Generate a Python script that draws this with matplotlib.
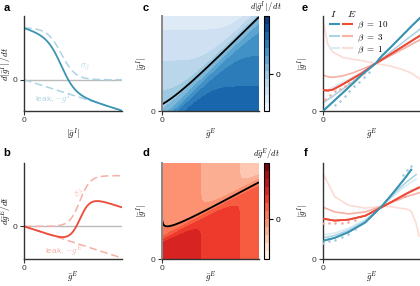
import numpy as np
import matplotlib
matplotlib.use("Agg")
import matplotlib.pyplot as plt
from matplotlib.legend_handler import HandlerTuple

plt.rcParams['font.family'] = ['Liberation Sans', 'DejaVu Sans']
plt.rcParams['mathtext.fontset'] = 'cm'

# ---------------- model parameters (panels a-d) ----------------
A_I, beta_I, theta_I, w_I = 1.68, 14.0, 0.154, 1.17     # inhibitory population
A_E, beta_E, theta_E, w_E = 1.6, 31.0, -0.199, 0.617    # excitatory population
a_center = 0.38      # sigmoid centre shown in panel a (|g^I| axis)
b_center = 0.57      # sigmoid centre shown in panel b (g^E axis)
b_gain = 19.0
c_levels = (-1.5, 2.4)     # colour-bar range, panel c
d_levels = (-2.0, 2.8)     # colour-bar range, panel d
n_levels = 12

# ---------------- nullcline data (panels e, f) ----------------
betas = [10, 3, 1]
e_x = [0.0, 0.05, 0.1, 0.2, 0.3, 0.4, 0.536, 0.6, 0.7, 0.8, 0.9, 1.0]
e_I = {10: [0.0, 0.047, 0.095, 0.19, 0.285, 0.385, 0.50, 0.58, 0.68, 0.785, 0.89, 0.99],
       3:  [0.087, 0.12, 0.155, 0.23, 0.305, 0.385, 0.50, 0.55, 0.63, 0.71, 0.79, 0.87],
       1:  [0.20, 0.225, 0.25, 0.30, 0.355, 0.415, 0.50, 0.535, 0.59, 0.645, 0.70, 0.755]}
e_E = {10: [0.22, 0.215, 0.225, 0.28, 0.34, 0.40, 0.50, 0.54, 0.605, 0.67, 0.735, 0.80],
       3:  [0.38, 0.36, 0.355, 0.37, 0.40, 0.44, 0.50, 0.535, 0.59, 0.645, 0.70, 0.755],
       1:  [0.95, 0.70, 0.62, 0.565, 0.545, 0.53, 0.50, 0.49, 0.47, 0.44, 0.40, 0.33]}
e_dot_x = [0.12, 0.17, 0.22, 0.27, 0.32, 0.37, 0.42, 0.47]
e_dot_I = [0.063, 0.11, 0.16, 0.21, 0.26, 0.31, 0.36, 0.41]
e_dotE_x = [0.02, 0.07, 0.12, 0.17, 0.22, 0.27, 0.32, 0.37, 0.42]
e_dot_E = [0.13, 0.17, 0.21, 0.235, 0.265, 0.295, 0.33, 0.365, 0.40]

f_x = [0.0, 0.12, 0.26, 0.43, 0.60, 0.70, 0.78, 0.85, 0.90, 0.95, 0.98]
f_I = {10: [0.19, 0.22, 0.28, 0.38, 0.55, 0.67, 0.77, 0.86, 0.93, None, None],
       3:  [0.22, 0.245, 0.30, 0.395, 0.55, 0.655, 0.735, 0.80, 0.84, 0.88, None],
       1:  [0.25, 0.27, 0.32, 0.41, 0.55, 0.64, 0.71, 0.765, 0.80, 0.83, None]}
f_E = {10: [0.42, 0.40, 0.41, 0.45, 0.54, 0.595, 0.64, 0.68, 0.705, 0.73, 0.745],
       3:  [0.54, 0.49, 0.47, 0.49, 0.55, 0.59, 0.62, 0.65, 0.665, 0.68, 0.69],
       1:  [0.89, 0.65, 0.56, 0.53, 0.55, 0.545, 0.53, 0.52, 0.50, 0.37, 0.24]}
f_dot_x = [0.0, 0.06, 0.12, 0.19, 0.26, 0.33, 0.82, 0.86, 0.90]
f_dot_I = [0.17, 0.185, 0.20, 0.23, 0.265, 0.31, 0.87, 0.93, 0.97]
f_dotE_x = [0.0, 0.06, 0.12, 0.19, 0.26, 0.33, 0.84, 0.90, 0.95]
f_dot_E = [0.37, 0.37, 0.37, 0.38, 0.39, 0.41, 0.66, 0.72, 0.74]

# ---------------- colours ----------------
BLUE = '#3c94b4'
BLUE3 = '#add4e3'
BLUE1 = '#daecf3'
RED = '#ee4a38'
RED3 = '#f6b0a5'
RED1 = '#fcdcd6'
BLUE_DOT = '#9ccadb'
RED_DOT = '#f4a597'
SPINE = '#333333'


def sig(x):
    return 1.0 / (1.0 + np.exp(-x))


fig = plt.figure(figsize=(4.2, 2.86), dpi=100)


def pos(l, t, r, b):
    return [l / 420, 1 - b / 286, (r - l) / 420, (b - t) / 286]


def style(ax, ylx, xly):
    for s in ['top', 'right']:
        ax.spines[s].set_visible(False)
    for s in ['left', 'bottom']:
        ax.spines[s].set_color(SPINE)
        ax.spines[s].set_linewidth(1.0)
    ax.tick_params(length=3, width=0.8, labelsize=6, pad=1.5, colors=SPINE)
    ax.set_xticks([0])
    ax.set_yticks([0])
    ax.yaxis.set_label_coords(ylx, 0.5)
    ax.xaxis.set_label_coords(0.5, xly)


# ---------------- panel a ----------------
ax = fig.add_axes(pos(24, 16, 122, 111))
x = np.linspace(0, 1, 300)
sa = A_I * sig(-beta_I * (x - a_center))
ax.axhline(0, color='#bbbbbb', lw=1.0, zorder=0)
ax.plot(x, sa, ls=(0, (5, 2.5)), color=BLUE3, lw=1.1)
ax.plot(x, -x, ls=(0, (5, 2.5)), color=BLUE3, lw=1.1)
ax.plot(x, sa - x, color=BLUE, lw=1.3)
ax.text(0.57, 0.42, r'$\sigma_\beta$', color=BLUE3, fontsize=6, ha='left', va='center')
ax.text(0.11, -0.62, r'leak, $-g^I$', color=BLUE3, fontsize=6, ha='left', va='center')
ax.set_xlim(0, 1)
ax.set_ylim(-1.01, 2.06)
ax.set_xlabel(r'$|\bar{g}^I|$', fontsize=6.5)
ax.set_ylabel(r'$d|\bar{g}^I|\,/\,dt$', fontsize=6.5)
style(ax, -0.10, -0.17)

# ---------------- panel b ----------------
ax = fig.add_axes(pos(24, 163, 122, 259))
sb = A_E * sig(b_gain * (x - b_center))
ax.axhline(0, color='#bbbbbb', lw=1.0, zorder=0)
ax.plot(x, sb, ls=(0, (5, 2.5)), color=RED3, lw=1.1)
ax.plot(x, -x, ls=(0, (5, 2.5)), color=RED3, lw=1.1)
ax.plot(x, sb - x, color=RED, lw=1.3)
ax.text(0.50, 1.05, r'$\sigma_\beta$', color=RED3, fontsize=6, ha='left', va='center', rotation=60)
ax.text(0.21, -0.76, r'leak, $-g^E$', color=RED3, fontsize=6, ha='left', va='center')
ax.set_xlim(0, 1)
ax.set_ylim(-1.03, 2.0)
ax.set_xlabel(r'$\bar{g}^E$', fontsize=6.5)
ax.set_ylabel(r'$d\bar{g}^E/dt$', fontsize=6.5)
style(ax, -0.10, -0.115)

# ---------------- panel c ----------------
u = np.linspace(0, 1, 301)
v = np.linspace(0, 1, 301)
U, V = np.meshgrid(u, v)
Fc = A_I * sig(beta_I * (w_I * U - V - theta_I)) - V
ax = fig.add_axes(pos(162, 16, 259, 111))
lev = np.linspace(c_levels[0], c_levels[1], n_levels + 1)
cf = ax.contourf(U, V, Fc, levels=lev, cmap='Blues')
ax.contour(U, V, Fc, levels=[0], colors='black', linewidths=1.3)
ax.set_xlim(0, 1)
ax.set_ylim(0, 1)
ax.set_xlabel(r'$\bar{g}^E$', fontsize=6.5)
ax.set_ylabel(r'$|\bar{g}^I|$', fontsize=6.5)
style(ax, -0.12, -0.17)
ax.spines['left'].set_color('#888888')
ax.spines['left'].set_linewidth(1.4)
cax = fig.add_axes(pos(264, 16, 269, 111))
cb = fig.colorbar(cf, cax=cax, ticks=[0])
cb.outline.set_linewidth(0.8)
cax.tick_params(length=3, width=0.8, labelsize=6, pad=1.5)
cax.text(0.5, 1.02, r'$d|\bar{g}^I|\,/\,dt$', transform=cax.transAxes, ha='center', va='bottom', fontsize=6)

# ---------------- panel d ----------------
Fd = A_E * sig(beta_E * (w_E * U - V - theta_E)) - U
ax = fig.add_axes(pos(162, 163, 259, 259))
lev = np.linspace(d_levels[0], d_levels[1], n_levels + 1)
cf = ax.contourf(U, V, Fd, levels=lev, cmap='Reds')
ax.contour(U[:, 1:], V[:, 1:], Fd[:, 1:], levels=[0], colors='black', linewidths=1.3)
ax.set_xlim(0, 1)
ax.set_ylim(0, 1)
ax.set_xlabel(r'$\bar{g}^E$', fontsize=6.5)
ax.set_ylabel(r'$|\bar{g}^I|$', fontsize=6.5)
style(ax, -0.12, -0.115)
ax.spines['left'].set_color('#888888')
ax.spines['left'].set_linewidth(1.4)
cax = fig.add_axes(pos(264, 163, 269, 259))
cb = fig.colorbar(cf, cax=cax, ticks=[0])
cb.outline.set_linewidth(0.8)
cax.tick_params(length=3, width=0.8, labelsize=6, pad=1.5)
cax.text(0.5, 1.02, r'$d\bar{g}^E/dt$', transform=cax.transAxes, ha='center', va='bottom', fontsize=6)

# ---------------- panels e, f ----------------
bcol = {10: BLUE, 3: BLUE3, 1: BLUE1}
rcol = {10: RED, 3: RED3, 1: RED1}
lw = {10: 1.3, 3: 1.2, 1: 1.2}


def clean(xs, ys):
    pts = [(a, b) for a, b in zip(xs, ys) if b is not None]
    return [p[0] for p in pts], [p[1] for p in pts]


def nullcline_panel(rect, xs, I, E, dIx, dI, dEx, dE, legend, xly):
    ax = fig.add_axes(rect)
    for b in reversed(betas):
        xi, yi = clean(xs, I[b])
        xe, ye = clean(xs, E[b])
        ax.plot(xe, ye, color=rcol[b], lw=lw[b], zorder=2)
        ax.plot(xi, yi, color=bcol[b], lw=lw[b], zorder=2)
    ax.plot(dEx, dE, ls='none', marker='o', ms=1.8, mew=0, color=RED_DOT, zorder=3)
    ax.plot(dIx, dI, ls='none', marker='o', ms=1.8, mew=0, color=BLUE_DOT, zorder=3)
    xi, yi = clean(xs, I[10])
    xe, ye = clean(xs, E[10])
    ax.plot(xe, ye, color=RED, lw=1.3, zorder=4)
    ax.plot(xi, yi, color=BLUE, lw=1.3, zorder=4)
    ax.set_xlim(0, 1)
    ax.set_ylim(0, 1)
    ax.set_xlabel(r'$\bar{g}^E$', fontsize=6.5)
    ax.set_ylabel(r'$|\bar{g}^I|$', fontsize=6.5)
    style(ax, -0.12, xly)
    if legend:
        hs = []
        for b in betas:
            hb, = ax.plot([], [], color=bcol[b], lw=1.5)
            hr, = ax.plot([], [], color=rcol[b], lw=1.5)
            hs.append((hb, hr))
        leg = ax.legend(hs, [r'$\beta\ =\ %d$' % b for b in betas],
                        handler_map={tuple: HandlerTuple(ndivide=None, pad=0.5)},
                        title=r'$I$     $E$', frameon=False, loc='upper left',
                        bbox_to_anchor=(0.06, 1.08), fontsize=6.5, title_fontsize=7,
                        handlelength=2.5, handletextpad=0.5, labelspacing=0.1,
                        borderpad=0.1, borderaxespad=0.0)
        leg._legend_box.align = 'left'
    return ax


nullcline_panel(pos(323, 16, 421, 111), e_x, e_I, e_E, e_dot_x, e_dot_I, e_dotE_x, e_dot_E, True, -0.17)
nullcline_panel(pos(323, 163, 421, 259), f_x, f_I, f_E, f_dot_x, f_dot_I, f_dotE_x, f_dot_E, False, -0.115)

# ---------------- panel letters ----------------
for lab, px, py in [('a', 7, 8), ('b', 7, 153), ('c', 146, 8), ('d', 146, 153), ('e', 305, 8), ('f', 306, 153)]:
    fig.text(px / 420, 1 - py / 286, lab, fontsize=8, fontweight='bold', ha='center', va='center')

fig.savefig('out.png', dpi=100)
